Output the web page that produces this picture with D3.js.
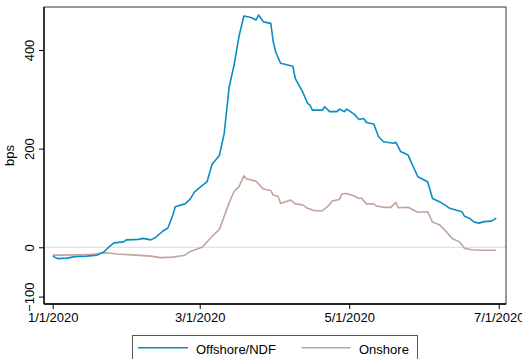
<!DOCTYPE html>
<html>
<head>
<meta charset="utf-8">
<script src="https://cdn.jsdelivr.net/npm/d3@7"></script>
<style>
  html, body { margin: 0; padding: 0; background: #fff; }
  svg { display: block; font-family: "Liberation Sans", Arial, Helvetica, sans-serif; }
</style>
</head>
<body>
<svg id="chart" width="522" height="359"></svg>
<script>
// Offshore/NDF spread (bps)
const offshoreDates = ["2020-01-01","2020-01-03","2020-01-07","2020-01-10","2020-01-15","2020-01-19","2020-01-22","2020-01-24","2020-01-26","2020-01-30","2020-01-31","2020-02-05","2020-02-07","2020-02-10","2020-02-12","2020-02-15","2020-02-17","2020-02-19","2020-02-20","2020-02-24","2020-02-26","2020-02-28","2020-03-04","2020-03-06","2020-03-09","2020-03-11","2020-03-13","2020-03-15","2020-03-17","2020-03-19","2020-03-22","2020-03-24","2020-03-25","2020-03-27","2020-03-30","2020-03-31","2020-04-01","2020-04-03","2020-04-08","2020-04-09","2020-04-12","2020-04-14","2020-04-15","2020-04-16","2020-04-20","2020-04-21","2020-04-23","2020-04-26","2020-04-27","2020-04-29","2020-04-30","2020-05-03","2020-05-05","2020-05-07","2020-05-08","2020-05-11","2020-05-13","2020-05-15","2020-05-19","2020-05-20","2020-05-22","2020-05-25","2020-05-29","2020-06-02","2020-06-04","2020-06-07","2020-06-09","2020-06-11","2020-06-16","2020-06-17","2020-06-19","2020-06-21","2020-06-23","2020-06-25","2020-06-28","2020-06-30"];
const offshoreValues = [-18,-23,-22,-19,-18,-16,-9,1,9,11,15,16,18,15,20,33,39,65,82,88,97,113,133,168,186,231,325,369,427,469,466,461,471,457,454,417,396,373,367,342,315,292,288,278,278,285,275,275,280,275,280,270,259,261,253,250,224,214,211,213,194,187,143,133,99,92,86,79,72,63,59,51,49,52,53,59];

// Onshore spread (bps)
const onshoreDates = ["2020-01-01","2020-01-05","2020-01-11","2020-01-17","2020-01-23","2020-01-27","2020-02-04","2020-02-10","2020-02-14","2020-02-19","2020-02-24","2020-02-26","2020-02-28","2020-03-02","2020-03-06","2020-03-09","2020-03-13","2020-03-15","2020-03-17","2020-03-19","2020-03-20","2020-03-24","2020-03-27","2020-03-30","2020-03-31","2020-04-02","2020-04-03","2020-04-07","2020-04-09","2020-04-12","2020-04-14","2020-04-17","2020-04-20","2020-04-22","2020-04-23","2020-04-24","2020-04-27","2020-04-28","2020-04-30","2020-05-03","2020-05-05","2020-05-06","2020-05-08","2020-05-11","2020-05-12","2020-05-15","2020-05-18","2020-05-20","2020-05-21","2020-05-25","2020-05-29","2020-06-02","2020-06-04","2020-06-07","2020-06-09","2020-06-12","2020-06-15","2020-06-17","2020-06-20","2020-06-24","2020-06-30"];
const onshoreValues = [-16,-16,-15,-14,-11,-13.5,-16,-18,-21,-20,-16,-9,-5,0,22,36,90,113,123,145,139,134,118,115,106,103,89,96,88,86,79,74,74,82,87,94,97,108,109,104,99,100,88,88,84,81,81,91,80,81,71,72,51,45,35,18,11,-2,-5,-6,-6];

const yTicks = [-100, 0, 200, 400];
const xTickDates = ["2020-01-01","2020-03-01","2020-05-01","2020-07-01"];
const seriesNames = ["Offshore/NDF", "Onshore"];
const seriesColors = ["#0b8cc2", "#c3a49c"];

const parse = d3.timeParse("%Y-%m-%d");
const fmt = d3.timeFormat("%-m/%-d/%Y");

const svg = d3.select("#chart");
const plot = { left: 44, right: 506, top: 7, bottom: 304 };

const x = d3.scaleTime()
  .domain([parse("2020-01-01"), parse("2020-07-01")])
  .range([52.7, 498.7]);
const y = d3.scaleLinear()
  .domain([-100, 400])
  .range([296.6, 50]);

// zero reference line
svg.append("line")
  .attr("x1", plot.left).attr("x2", plot.right)
  .attr("y1", y(0)).attr("y2", y(0))
  .attr("stroke", "#d9d9d9").attr("stroke-width", 1);

// series
const series = [
  offshoreDates.map((d, i) => ({ date: parse(d), value: offshoreValues[i] })),
  onshoreDates.map((d, i) => ({ date: parse(d), value: onshoreValues[i] }))
];
const line = d3.line().x(d => x(d.date)).y(d => y(d.value));
// draw onshore first so offshore sits on top
[1, 0].forEach(k => {
  svg.append("path")
    .datum(series[k])
    .attr("fill", "none")
    .attr("stroke", seriesColors[k])
    .attr("stroke-width", 1.6)
    .attr("stroke-linejoin", "round")
    .attr("d", line);
});

// plot frame
svg.append("rect")
  .attr("x", plot.left).attr("y", plot.top)
  .attr("width", plot.right - plot.left).attr("height", plot.bottom - plot.top)
  .attr("fill", "none").attr("stroke", "#333").attr("stroke-width", 1);

// x axis
const xAxis = d3.axisBottom(x)
  .tickValues(xTickDates.map(parse))
  .tickFormat(fmt)
  .tickSize(5).tickPadding(4);
const gx = svg.append("g").attr("transform", `translate(0,${plot.bottom})`).call(xAxis);
gx.select(".domain").remove();
gx.append("line").attr("x1", plot.left).attr("x2", plot.right).attr("stroke", "#000").attr("stroke-width", 1.3);
gx.selectAll(".tick line").attr("stroke", "#000").attr("stroke-width", 1);
gx.selectAll(".tick text").attr("font-size", 13).attr("fill", "#000")
  .attr("font-family", "Liberation Sans, Arial, sans-serif");

// y axis
const yAxis = d3.axisLeft(y).tickValues(yTicks).tickSize(5).tickPadding(0);
const gy = svg.append("g").attr("transform", `translate(${plot.left},0)`).call(yAxis);
gy.select(".domain").remove();
gy.append("line").attr("y1", plot.top).attr("y2", plot.bottom).attr("stroke", "#000").attr("stroke-width", 1.3);
gy.selectAll(".tick line").attr("stroke", "#000").attr("stroke-width", 1);
gy.selectAll(".tick text")
  .attr("font-size", 13).attr("fill", "#000")
  .attr("font-family", "Liberation Sans, Arial, sans-serif")
  .attr("text-anchor", "middle")
  .attr("dy", 0)
  .attr("x", 0)
  .attr("transform", "translate(-10,0) rotate(-90)");

// y axis title
svg.append("text")
  .attr("transform", `translate(14,${(plot.top + plot.bottom) / 2}) rotate(-90)`)
  .attr("text-anchor", "middle")
  .attr("font-size", 13)
  .text("bps");

// legend
const legend = svg.append("g");
legend.append("rect")
  .attr("x", 132.5).attr("y", 335.5).attr("width", 285).attr("height", 30)
  .attr("fill", "#fff").attr("stroke", "#555").attr("stroke-width", 1);
const items = [
  { x1: 138, x2: 188, tx: 196 },
  { x1: 301.5, x2: 350.5, tx: 359 }
];
items.forEach((it, k) => {
  legend.append("line")
    .attr("x1", it.x1).attr("x2", it.x2).attr("y1", 347.7).attr("y2", 347.7)
    .attr("stroke", seriesColors[k]).attr("stroke-width", 1.6);
  legend.append("text")
    .attr("x", it.tx).attr("y", 354)
    .attr("font-size", 13)
    .text(seriesNames[k]);
});
</script>
</body>
</html>
